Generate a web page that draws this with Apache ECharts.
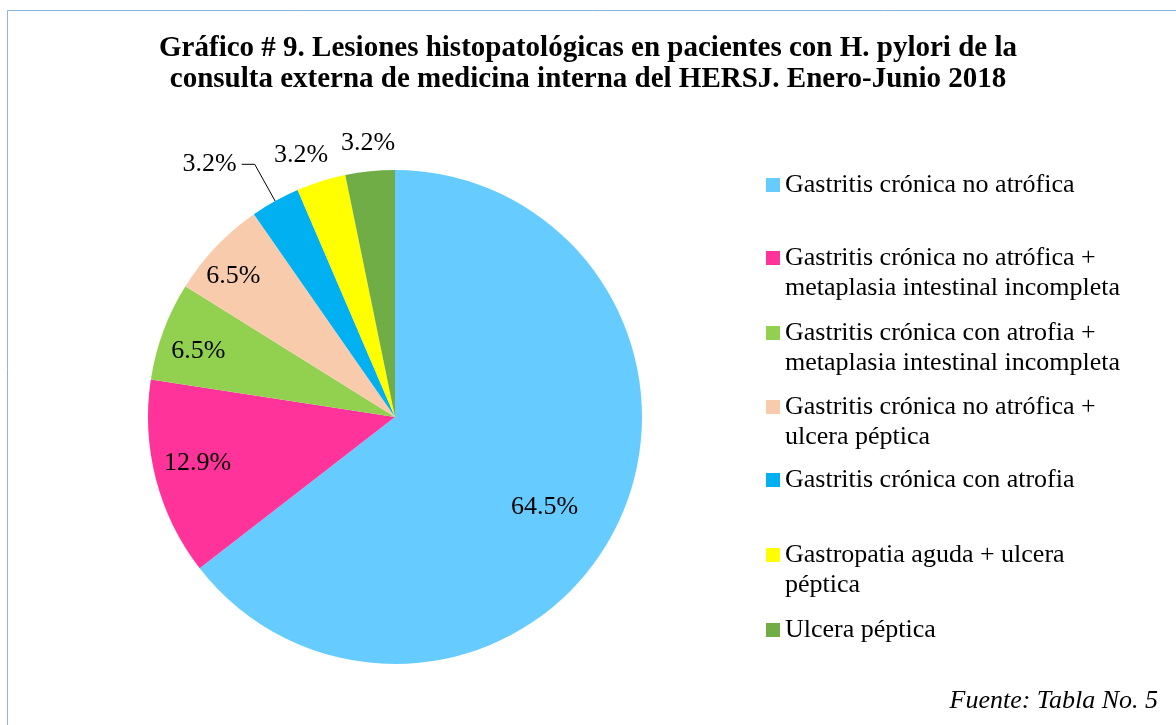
<!DOCTYPE html>
<html>
<head>
<meta charset="utf-8">
<script src="https://cdn.jsdelivr.net/npm/echarts@6/dist/echarts.min.js"></script>
<style>
  html, body { margin: 0; padding: 0; background: #fff; }
  #main { width: 1176px; height: 725px; }
</style>
</head>
<body>
<div id="main"></div>
<script>
// datos del gráfico
const categorias = [
  'Gastritis crónica no atrófica',
  'Gastritis crónica no atrófica + metaplasia intestinal incompleta',
  'Gastritis crónica con atrofia + metaplasia intestinal incompleta',
  'Gastritis crónica no atrófica + ulcera péptica',
  'Gastritis crónica con atrofia',
  'Gastropatia aguda + ulcera péptica',
  'Ulcera péptica'
];
// texto de la leyenda con saltos de línea como en el original
const textoLeyenda = [
  'Gastritis crónica no atrófica',
  'Gastritis crónica no atrófica +\nmetaplasia intestinal incompleta',
  'Gastritis crónica con atrofia +\nmetaplasia intestinal incompleta',
  'Gastritis crónica no atrófica +\nulcera péptica',
  'Gastritis crónica con atrofia',
  'Gastropatia aguda + ulcera\npéptica',
  'Ulcera péptica'
];
const pacientes = [20, 4, 2, 2, 1, 1, 1];
const colores = ['#66CCFF', '#FF3399', '#92D050', '#F8CBAD', '#00B0F0', '#FFFF00', '#70AD47'];

let myChart = echarts.init(document.getElementById('main'));

const FONT = '"Liberation Serif", "Times New Roman", serif';

// posiciones (centro vertical de la primera línea) de cada entrada de leyenda
const leyendaY = [185, 258, 333, 407, 480, 555, 630];
// desplazamiento de etiquetas respecto a la posición interior por defecto
const desplaza = [[36, 34], [-75, 14], [-78, -22], [-70, -54], [0, 0], [-56, -141], [-14, -148]];

let legends = categorias.map((name, i) => {
  const dosLineas = textoLeyenda[i].indexOf('\n') >= 0;
  return {
    orient: 'vertical',
    left: 766,
    // con dos líneas se añade una línea vacía arriba para que el cuadro quede junto a la primera
    top: dosLineas ? leyendaY[i] - 45 : leyendaY[i] - 15,
    padding: 0,
    itemWidth: 14,
    itemHeight: 14,
    icon: 'rect',
    selectedMode: false,
    data: [name],
    formatter: () => dosLineas ? ' \n' + textoLeyenda[i] : textoLeyenda[i],
    textStyle: {
      fontFamily: FONT,
      fontSize: 26,
      color: '#000',
      lineHeight: 30
    }
  };
});

let option = {
  backgroundColor: '#fff',
  animation: false,
  title: [
    {
      text: 'Gráfico # 9. Lesiones histopatológicas en pacientes con H. pylori de la\nconsulta externa de medicina interna del HERSJ. Enero-Junio 2018',
      left: 'center',
      top: 33,
      padding: 0,
      textStyle: { fontFamily: FONT, fontSize: 29, fontWeight: 'bold', color: '#000', lineHeight: 31 }
    },
    {
      text: 'Fuente: Tabla No. 5',
      right: 18,
      top: 688,
      padding: 0,
      textStyle: { fontFamily: FONT, fontSize: 26, fontStyle: 'italic', fontWeight: 'normal', color: '#000' }
    }
  ],
  legend: legends,
  graphic: [
    {
      type: 'rect',
      shape: { x: 7.5, y: 10.5, width: 1300, height: 900 },
      style: { fill: 'none', stroke: '#8DB3E2', lineWidth: 1 },
      silent: true
    }
  ],
  series: [
    {
      name: 'Lesiones',
      type: 'pie',
      center: [395, 417],
      radius: 247,
      startAngle: 90,
      clockwise: true,
      avoidLabelOverlap: false,
      itemStyle: { borderWidth: 0 },
      label: {
        show: true,
        position: 'inside',
        fontFamily: FONT,
        fontSize: 26,
        color: '#000',
        formatter: p => p.percent.toFixed(1) + '%'
      },
      labelLine: { show: false },
      labelLayout: p => ({ dx: desplaza[p.dataIndex][0], dy: desplaza[p.dataIndex][1] }),
      data: categorias.map((name, i) => {
        let item = { name: name, value: pacientes[i], itemStyle: { color: colores[i] } };
        if (i === 4) {
          // esta etiqueta va fuera con línea guía
          item.label = { position: 'outside', distanceToLabelLine: 5 };
          item.labelLine = { show: true, length: 42, length2: 13, lineStyle: { color: '#000', width: 1 } };
        }
        return item;
      })
    }
  ]
};

myChart.setOption(option);
</script>
</body>
</html>
